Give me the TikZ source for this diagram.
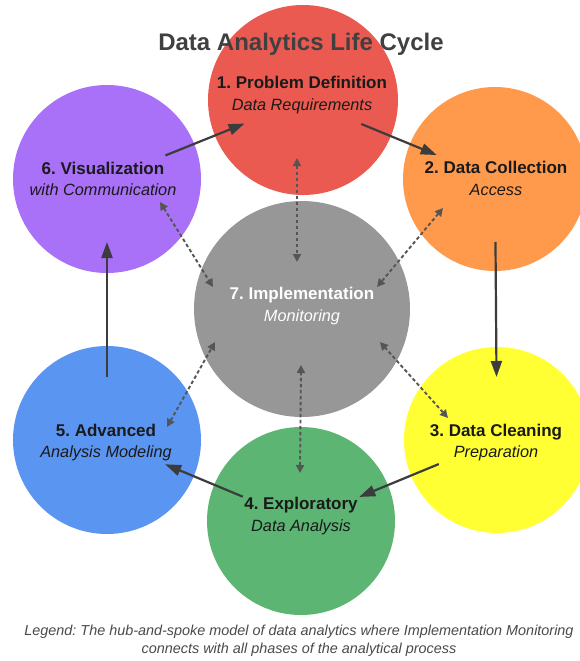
\documentclass[tikz,border=0pt]{standalone}
\usepackage{fontspec}
\setmainfont{Liberation Sans}
\usetikzlibrary{arrows.meta}
\frenchspacing

\definecolor{phaseRed}{HTML}{EB5A50}
\definecolor{phaseOrange}{HTML}{FF9A4D}
\definecolor{phaseYellow}{HTML}{FFFF33}
\definecolor{phaseGreen}{HTML}{5CB572}
\definecolor{phaseBlue}{HTML}{5B95F2}
\definecolor{phasePurple}{HTML}{A970F8}
\definecolor{hubGray}{HTML}{979797}
\definecolor{titleInk}{HTML}{404040}
\definecolor{labelInk}{HTML}{1A1A1A}
\definecolor{flowInk}{HTML}{3C3C3C}
\definecolor{spokeInk}{HTML}{555555}
\definecolor{legendInk}{HTML}{4A4A4A}

% two-line phase caption: bold name, italic subtitle
\newcommand\phaselabel[2]{\textbf{#1}\\{\fontsize{16.3}{21.5}\selectfont\itshape #2}}

\begin{document}
\begin{tikzpicture}[x=1pt,y=-1pt,
  phase/.style={circle, inner sep=0pt, draw=none, minimum size=#1},
  lbl/.style={align=center, text=labelInk, inner sep=0pt,
              font=\fontsize{17}{21.5}\selectfont},
  flow/.style={draw=flowInk, line width=2.2pt,
               -{Triangle[length=16pt,width=11pt]},
               shorten <=63pt, shorten >=63pt},
  spoke/.style={draw=spokeInk, line width=1.9pt, dash pattern=on 3.5pt off 2.5pt,
                {Triangle[length=8pt,width=8pt]}-{Triangle[length=8pt,width=8pt]}}
]
\useasboundingbox[fill=white] (0,0) rectangle (579,661);

% phase circles around the central hub
\node[phase=190pt, fill=phaseRed]    (c1) at (303,100) {};
\node[phase=184pt, fill=phaseOrange] (c2) at (495,179) {};
\node[phase=186pt, fill=phaseYellow] (c3) at (497,440) {};
\node[phase=188pt, fill=phaseGreen]  (c4) at (301,521) {};
\node[phase=188pt, fill=phaseBlue]   (c5) at (107,440) {};
\node[phase=188pt, fill=phasePurple] (c6) at (107,179) {};
\node[phase=216pt, fill=hubGray]     (c7) at (302,309) {};

% title
\node[anchor=base, text=titleInk, font=\fontsize{24}{28}\selectfont\bfseries]
  (title) at (301,51) {Data Analytics Life Cycle};

% captions
\node[lbl] (l1) at (302,95)    {\phaselabel{1. Problem Definition}{Data Requirements}};
\node[lbl] (l2) at (496,178.5) {\phaselabel{2. Data Collection}{Access}};
\node[lbl] (l3) at (496,442.5) {\phaselabel{3. Data Cleaning}{Preparation}};
\node[lbl] (l4) at (301,516)   {\phaselabel{4. Exploratory}{Data Analysis}};
\node[lbl] (l5) at (106,442.5) {\phaselabel{5. Advanced}{Analysis Modeling}};
\node[lbl] (l6) at (103,179)   {\phaselabel{6. Visualization}{with Communication}};
\node[lbl, text=white] (l7) at (302,306) {\phaselabel{7. Implementation}{Monitoring}};

% spoke end points
\coordinate (s1a) at (297,158); \coordinate (s1b) at (297,262);
\coordinate (s2a) at (443,208); \coordinate (s2b) at (377,287);
\coordinate (s3a) at (448,418); \coordinate (s3b) at (380,342);
\coordinate (s4a) at (300,473); \coordinate (s4b) at (301,365);
\coordinate (s5a) at (167,427); \coordinate (s5b) at (215,342);
\coordinate (s6a) at (160,202); \coordinate (s6b) at (213,287);

% hub-and-spoke links
\foreach \k in {1,...,6} \draw[spoke] (s\k a) -- (s\k b);

% life-cycle flow
\draw[flow] (c1.center) -- (c2.center);
\draw[flow] (c2.center) -- (c3.center);
\draw[flow] (c3.center) -- (c4.center);
\draw[flow] (c4.center) -- (c5.center);
\draw[flow] (c5.center) -- (c6.center);
\draw[flow] (c6.center) -- (c1.center);

% legend
\node[align=center, text=legendInk, font=\fontsize{14.4}{18}\selectfont\itshape]
  (legend) at (299,641)
  {Legend: The hub-and-spoke model of data analytics where Implementation Monitoring\\
   connects with all phases of the analytical process};
\end{tikzpicture}
\end{document}
